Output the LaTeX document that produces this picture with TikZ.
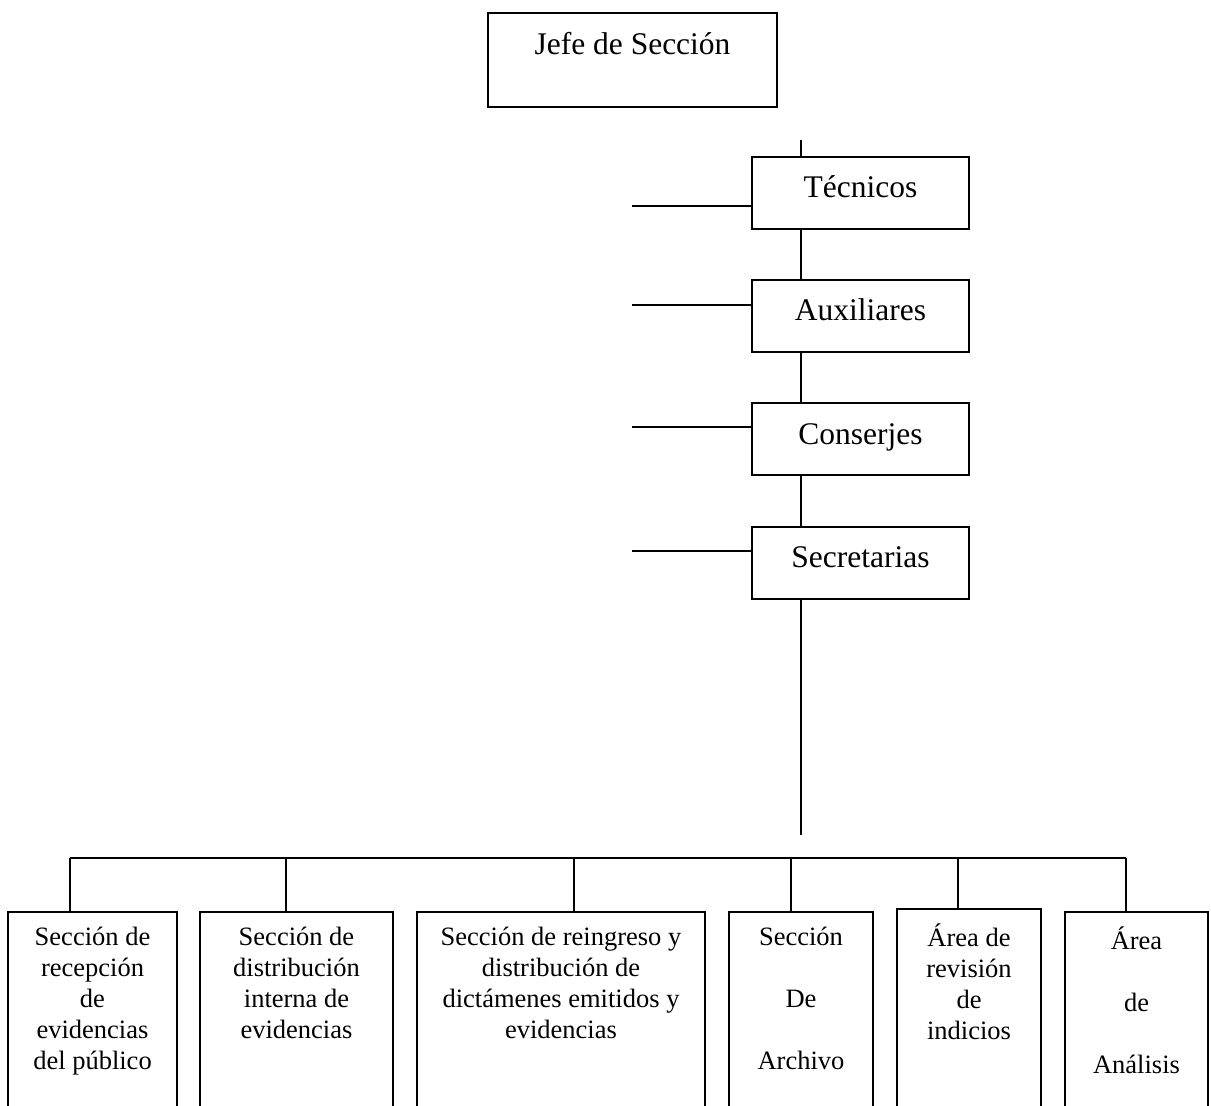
\documentclass[tikz,border=0pt]{standalone}
\usepackage{fontspec}
\setmainfont{Liberation Serif}
\usepackage{tikz}
\usetikzlibrary{positioning}

\tikzset{
	topbox/.style={draw, rectangle, inner sep=0, font=\fontsize{15.75pt}{18pt}\selectfont},
	midbox/.style={topbox, minimum width=108.5pt, text height=20.5pt, text depth=15.5pt},
	lowbox/.style={draw, rectangle, inner sep=0, minimum height=105pt},
	lowtext/.style={inner sep=0, anchor=north, align=center, font=\fontsize{13.25pt}{15.5pt}\selectfont}
}

\begin{document}
\begin{tikzpicture}[x=0.5pt, y=-0.5pt, line width=1pt]
\path[use as bounding box, clip] (0,0) rectangle (1211,1106);

\node[topbox, minimum width=144.5pt, text height=21pt, text depth=26pt] (jefe) at (632.5,60) {Jefe de Sección};

\foreach \n/\y/\ly/\txt in {tec/193/206/Técnicos, aux/316/305/Auxiliares, con/439.5/427/Conserjes, sec/563/551/Secretarias}{
	\node[midbox] (\n) at (860.5,\y) {\txt};
	\coordinate (l\n) at (632,\ly);
	\draw (l\n) -- (l\n -| \n.west);
}

\coordinate (v0) at (801,140);
\coordinate (v1) at (801,835);
\draw (v0) -- (v0 |- tec.north);
\foreach \a/\b in {tec/aux, con/sec, aux/con}{
	\draw (\a.south -| v0) -- (\b.north -| v0);
}
\draw (sec.south -| v1) -- (v1);

\foreach \n/\cx/\ty/\w/\dx/\txt in {
	1/92.5/911/84.5/70/{Sección de\\recepción\\de\\evidencias\\del público},
	2/296.5/911/96.5/286/{Sección de\\distribución\\interna de\\evidencias},
	3/561/911/144/574/{Sección de reingreso y\\distribución de\\dictámenes emitidos y\\evidencias},
	4/801/911/72/791/{Sección\\[15.5pt]De\\[15.5pt]Archivo},
	5/969/908/72/958/{Área de\\revisión\\de\\indicios},
	6/1136.5/911/71.5/1126/{Área\\[15.5pt]de\\[15.5pt]Análisis}}{
	\node[lowbox, minimum width=\w pt, anchor=north] (s\n) at (\cx,\ty) {};
	\node[lowtext, below=7.5pt of s\n.north] (t\n) {\txt};
	\coordinate (b\n) at (\dx,858);
	\draw (b\n) -- (b\n |- s\n.north);
}
\draw (b1) -- (b6);

\end{tikzpicture}
\end{document}
